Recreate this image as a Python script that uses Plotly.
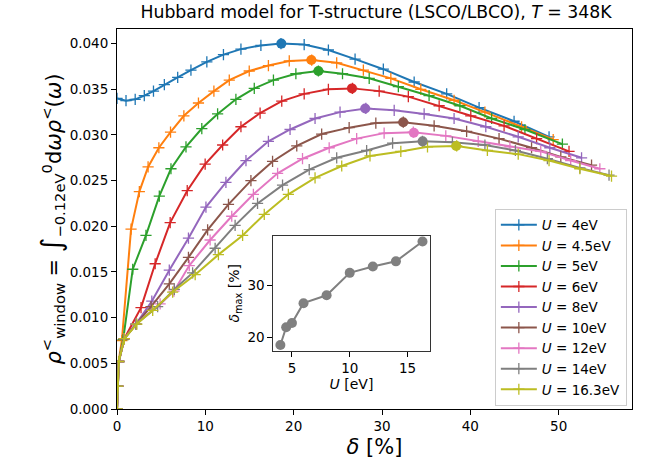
import plotly.graph_objects as go

# ---------------- data ----------------
U_values = [4, 4.5, 5, 6, 8, 10, 12, 14, 16.3]
U_labels = ["4", "4.5", "5", "6", "8", "10", "12", "14", "16.3"]
colors = ["#1f77b4", "#ff7f0e", "#2ca02c", "#d62728", "#9467bd",
          "#8c564b", "#e377c2", "#7f7f7f", "#bcbd22"]

delta_U4 = [0.0, 1.02, 2.06, 3.09, 4.13, 5.36, 6.87, 8.37, 10.17, 12.05, 14.03, 16.29,
            18.56, 21.19, 23.93, 26.95, 30.15, 33.64, 37.32, 40.99, 44.95, 48.91]
rho_U4 = [0.0340, 0.03376, 0.0339, 0.0343, 0.0348, 0.0355, 0.0363, 0.0371, 0.0380, 0.0388,
          0.0394, 0.0398, 0.0400, 0.0399, 0.0393, 0.0383, 0.0372, 0.0358, 0.0345, 0.0330,
          0.0315, 0.0298]

delta_U45 = [0.0, 0.08, 0.18, 0.55, 1.59, 2.53, 3.52, 4.74, 6.06, 7.57, 9.22, 10.97, 12.71,
             14.97, 17.14, 19.50, 22.04, 24.87, 27.89, 31.0, 34.39, 38.16, 41.65, 45.80, 49.38]
rho_U45 = [0.0, 0.0025, 0.0052, 0.0075, 0.0197, 0.0238, 0.0265, 0.0286, 0.0303, 0.0321,
           0.0335, 0.0348, 0.0360, 0.0370, 0.0376, 0.0381, 0.0382, 0.0379, 0.0371, 0.0362,
           0.0350, 0.0338, 0.0325, 0.0309, 0.0295]

delta_U5 = [0.0, 0.08, 0.2, 0.7, 1.78, 3.28, 4.79, 6.11, 7.81, 9.6, 11.39, 13.46, 15.54,
            17.71, 20.25, 22.8, 25.53, 28.55, 31.85, 35.33, 38.82, 42.41, 46.18, 50.42]
rho_U5 = [0.0, 0.0025, 0.0052, 0.0076, 0.0153, 0.0190, 0.0233, 0.0263, 0.0287, 0.0307,
          0.0323, 0.0339, 0.0351, 0.0360, 0.0367, 0.0370, 0.0367, 0.0362, 0.0353, 0.0343,
          0.0332, 0.0318, 0.0306, 0.0290]

delta_U6 = [0.0, 0.08, 0.2, 0.83, 2.72, 4.32, 6.02, 7.95, 9.98, 11.96, 14.03, 16.2, 18.65,
            21.19, 23.93, 26.66, 29.68, 32.98, 36.47, 40.05, 43.82, 47.5, 51.17]
rho_U6 = [0.0, 0.0025, 0.0052, 0.0077, 0.0111, 0.0159, 0.0204, 0.0239, 0.0268, 0.0289,
          0.0309, 0.0324, 0.0337, 0.0345, 0.0350, 0.0351, 0.0348, 0.0342, 0.0332, 0.0321,
          0.0310, 0.0296, 0.0282]

delta_U8 = [0.0, 0.08, 0.2, 0.83, 2.15, 3.94, 5.92, 8.09, 10.07, 12.33, 14.6, 17.14, 19.59,
            22.42, 25.25, 28.17, 31.38, 34.77, 38.16, 41.75, 45.42, 49.0, 52.59]
rho_U8 = [0.0, 0.0025, 0.0052, 0.0077, 0.0093, 0.0118, 0.0152, 0.0187, 0.0221, 0.0248,
          0.0272, 0.0293, 0.0306, 0.0318, 0.0325, 0.0329, 0.0327, 0.0323, 0.0318, 0.0309,
          0.0298, 0.0286, 0.0275]

delta_U10 = [0.0, 0.08, 0.2, 0.83, 2.15, 3.85, 5.92, 8.09, 10.26, 12.62, 15.16, 17.61, 20.35,
             23.17, 26.28, 29.3, 32.41, 35.9, 39.58, 43.25, 46.93, 50.24, 53.72]
rho_U10 = [0.0, 0.0025, 0.0052, 0.0077, 0.0093, 0.0112, 0.0137, 0.0166, 0.0196, 0.0224,
           0.0250, 0.0271, 0.0288, 0.0301, 0.0308, 0.0313, 0.0314, 0.0310, 0.0304, 0.0296,
           0.0286, 0.0276, 0.0267]

delta_U12 = [0.0, 0.08, 0.2, 0.83, 2.15, 4.88, 6.45, 8.18, 10.54, 12.99, 15.44, 18.18, 21.0,
             24.02, 27.13, 30.24, 33.54, 37.22, 40.89, 44.48, 47.97, 51.36, 54.66]
rho_U12 = [0.0, 0.0025, 0.0052, 0.0077, 0.0093, 0.0115, 0.0129, 0.0157, 0.0185, 0.0211,
           0.0235, 0.0258, 0.0274, 0.0286, 0.0296, 0.0302, 0.0303, 0.0299, 0.0293, 0.0287,
           0.0282, 0.0272, 0.0263]

delta_U14 = [0.0, 0.08, 0.2, 0.83, 2.15, 4.6, 6.49, 8.56, 11.11, 13.37, 15.91, 18.74, 21.76,
             24.87, 28.26, 31.2, 34.58, 37.97, 41.65, 45.1, 48.72, 52.4, 55.7]
rho_U14 = [0.0, 0.0025, 0.0052, 0.0077, 0.0093, 0.0112, 0.0131, 0.0149, 0.0176, 0.0201,
           0.0225, 0.0245, 0.0262, 0.0275, 0.0283, 0.0291, 0.0293, 0.0292, 0.0289, 0.0283,
           0.0274, 0.0264, 0.0256]

delta_U163 = [0.0, 0.08, 0.2, 0.83, 2.25, 4.04, 6.3, 8.85, 11.48, 14.22, 16.67, 19.4, 22.42,
              25.44, 28.64, 32.13, 35.15, 38.45, 41.93, 45.42, 48.91, 52.4, 55.98]
rho_U163 = [0.0, 0.0025, 0.0052, 0.0077, 0.0093, 0.0108, 0.0128, 0.0147, 0.0169, 0.0190,
            0.0213, 0.0235, 0.0253, 0.0266, 0.0277, 0.0282, 0.0287, 0.0288, 0.0283, 0.0279,
            0.0272, 0.0263, 0.0255]

# position of the maximum of each curve (also the inset data)
delta_max = [18.6, 22.0, 22.8, 26.6, 28.1, 32.4, 33.6, 34.6, 38.4]
rho_max = [0.0400, 0.0382, 0.0370, 0.0351, 0.0329, 0.0314, 0.03025, 0.0293, 0.0288]

series = [(delta_U4, rho_U4), (delta_U45, rho_U45), (delta_U5, rho_U5), (delta_U6, rho_U6),
          (delta_U8, rho_U8), (delta_U10, rho_U10), (delta_U12, rho_U12),
          (delta_U14, rho_U14), (delta_U163, rho_U163)]

FONT = "DejaVu Sans"
fig = go.Figure()

for i, (dx, ry) in enumerate(series):
    fig.add_trace(go.Scatter(
        x=dx, y=ry, mode="lines+markers",
        name=f"<i>U</i> = {U_labels[i]}eV",
        line=dict(color=colors[i], width=2),
        marker=dict(symbol="cross-thin", size=8, color=colors[i],
                    line=dict(color=colors[i], width=1.3)),
        xaxis="x", yaxis="y"))

for i in range(len(U_values)):
    fig.add_trace(go.Scatter(
        x=[delta_max[i]], y=[rho_max[i]], mode="markers", showlegend=False,
        marker=dict(symbol="circle", size=10, color=colors[i]),
        xaxis="x", yaxis="y"))

# inset
fig.add_trace(go.Scatter(
    x=U_values, y=delta_max, mode="lines+markers", showlegend=False,
    line=dict(color="#808080", width=2),
    marker=dict(symbol="circle", size=10, color="#808080"),
    xaxis="x2", yaxis="y2"))

ylab = ("<i>ρ</i><sup>&lt;</sup><sub>window</sub> = "
        "<span style='font-size:28px'>∫</span><sub>−0.12eV</sub><sup>0</sup>"
        "d<i>ωρ</i><sup>&lt;</sup>(<i>ω</i>)")

axis_common = dict(showline=True, mirror=True, linecolor="black", linewidth=1,
                   ticks="outside", ticklen=5, tickwidth=1, tickcolor="black",
                   showgrid=False, zeroline=False,
                   tickfont=dict(family=FONT, size=13.5, color="black"))

fig.update_layout(
    width=654, height=467,
    margin=dict(l=117, r=22, t=29, b=55),
    paper_bgcolor="white", plot_bgcolor="white",
    font=dict(family=FONT, color="black"),
    title=dict(text="Hubbard model for T-structure (LSCO/LBCO), <i>T</i> = 348K",
               x=0.575, xanchor="center", y=0.974, yanchor="middle",
               font=dict(family=FONT, size=17.3, color="black")),
    xaxis=dict(range=[0, 58.3], tickvals=[0, 10, 20, 30, 40, 50],
               title=dict(text="<i>δ</i> [%]", font=dict(size=21), standoff=6),
               **axis_common),
    yaxis=dict(range=[0, 0.0416], tickvals=[0, 0.005, 0.01, 0.015, 0.02, 0.025, 0.03,
                                             0.035, 0.04],
               tickformat=".3f",
               title=dict(text=ylab, font=dict(size=21), standoff=2),
               **axis_common),
    xaxis2=dict(domain=[0.3035, 0.607], anchor="y2", range=[3.385, 16.915],
                tickvals=[5, 10, 15],
                title=dict(text="<i>U</i> [eV]", font=dict(size=14), standoff=2),
                **{**axis_common, "linecolor": "#333"}),
    yaxis2=dict(domain=[0.1533, 0.456], anchor="x2", range=[17.5, 39.5],
                tickvals=[20, 30],
                title=dict(text="<i>δ</i><sub>max</sub> [%]", font=dict(size=14), standoff=4),
                **{**axis_common, "linecolor": "#333"}),
    legend=dict(x=0.99, xanchor="right", y=0.009, yanchor="bottom",
                bgcolor="rgba(255,255,255,0.85)", bordercolor="#cccccc", borderwidth=1,
                font=dict(family=FONT, size=13.5, color="black"),
                tracegroupgap=0, itemwidth=36),
    showlegend=True,
)

fig.write_html("out.html")
